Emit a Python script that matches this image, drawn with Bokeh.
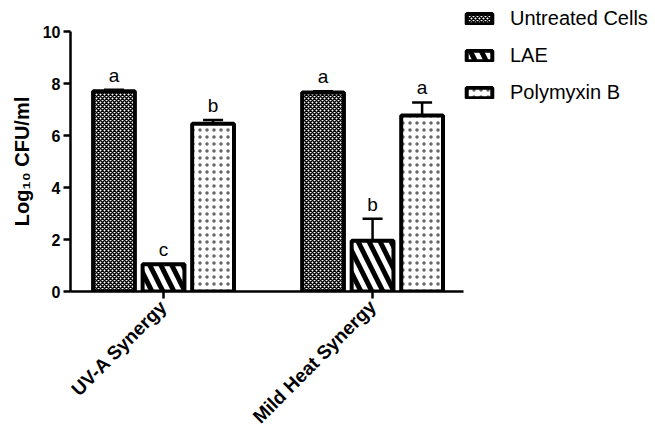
import math
from bokeh.plotting import figure
from bokeh.models import (ColumnDataSource, Range1d, FixedTicker, Whisker, TeeHead,
                          Legend, LegendItem)
from bokeh.embed import file_html
from bokeh.resources import INLINE
from bokeh.core.properties import value

# ---- data ----
groups = ["UV-A Synergy", "Mild Heat Synergy"]
treatments = ["Untreated Cells", "LAE", "Polymyxin B"]
untreated = [7.70, 7.65]
untreated_err = [0.06, 0.05]
lae = [1.05, 1.95]
lae_err = [0.0, 0.85]
polymyxin = [6.45, 6.77]
polymyxin_err = [0.15, 0.50]
untreated_letters = ["a", "a"]
lae_letters = ["c", "b"]
polymyxin_letters = ["b", "a"]
y_ticks = [0, 2, 4, 6, 8, 10]
y_label = "Log\u2081\u2080 CFU/ml"

FONT = "Liberation Sans"

series = [
    (treatments[0], untreated, untreated_err, untreated_letters,
     dict(hatch_pattern="diagonal_cross", hatch_scale=4, hatch_weight=1.5)),
    (treatments[1], lae, lae_err, lae_letters,
     dict(hatch_pattern="left_diagonal_line", hatch_scale=22, hatch_weight=5)),
    (treatments[2], polymyxin, polymyxin_err, polymyxin_letters,
     dict(hatch_pattern="dot", hatch_scale=7, hatch_weight=0.5, hatch_alpha=0.6)),
]
offsets = [-0.237, 0.0, 0.237]
bar_width = 0.2

p = figure(frame_width=393, frame_height=260, output_backend="svg",
           toolbar_location=None,
           x_range=Range1d(-0.445, 1.435), y_range=Range1d(0, 10),
           min_border_left=70, min_border_right=0, min_border_top=31,
           min_border_bottom=140)

legend_items = []
for (name, vals, errs, letters, style), off in zip(series, offsets):
    xs = [i + off for i in range(len(groups))]
    src = ColumnDataSource(dict(x=xs, top=vals,
                                upper=[v + e for v, e in zip(vals, errs)],
                                lower=[v - e for v, e in zip(vals, errs)],
                                letter=letters))
    r = p.vbar(x="x", top="top", width=bar_width, bottom=0, source=src,
               fill_color="white", line_color="black", line_width=4,
               hatch_color="black", **style)
    legend_items.append(LegendItem(label=name, renderers=[r]))
    w = Whisker(base="x", upper="upper", lower="lower", source=src,
                line_color="black", line_width=2.5,
                upper_head=TeeHead(size=20, line_width=2.5, line_color="black"),
                lower_head=TeeHead(size=20, line_width=2.5, line_color="black"))
    p.add_layout(w)
    p.text(x="x", y="upper", text="letter", source=src, text_align="center",
           text_baseline="bottom", y_offset=-4, text_font=value(FONT),
           text_font_size="19px", text_color="black")

legend = Legend(items=legend_items, location=(0, 187),
                label_text_font=FONT, label_text_font_size="20px",
                label_text_color="black",
                glyph_width=32, glyph_height=13, label_standoff=15,
                spacing=14, label_height=23, padding=0,
                margin=0, border_line_color=None, background_fill_alpha=0)
p.add_layout(legend, "right")

# axes
for ax in (p.xaxis, p.yaxis):
    ax.axis_line_width = 2.5
    ax.axis_line_color = "black"
    ax.major_tick_line_width = 2.5
    ax.major_tick_line_color = "black"
    ax.major_tick_out = 7
    ax.major_tick_in = 0
    ax.minor_tick_line_color = None
    ax.major_label_text_font = FONT
    ax.major_label_text_font_style = "bold"
    ax.major_label_text_color = "black"

p.xaxis.ticker = FixedTicker(ticks=list(range(len(groups))))
p.xaxis.major_label_overrides = {i: g for i, g in enumerate(groups)}
p.xaxis.major_label_orientation = math.pi / 4
p.xaxis.major_label_text_font_size = "19px"

p.yaxis.ticker = FixedTicker(ticks=y_ticks)
p.yaxis.major_label_text_font_size = "16px"
p.yaxis.major_label_standoff = 3
p.yaxis.axis_label = y_label
p.yaxis.axis_label_text_font = FONT
p.yaxis.axis_label_text_font_style = "bold"
p.yaxis.axis_label_text_font_size = "20px"
p.yaxis.axis_label_text_color = "black"
p.yaxis.axis_label_standoff = 7

p.xgrid.grid_line_color = None
p.ygrid.grid_line_color = None
p.outline_line_color = None
p.background_fill_color = "white"
p.border_fill_color = "white"

open("out.html", "w").write(file_html(p, INLINE))
